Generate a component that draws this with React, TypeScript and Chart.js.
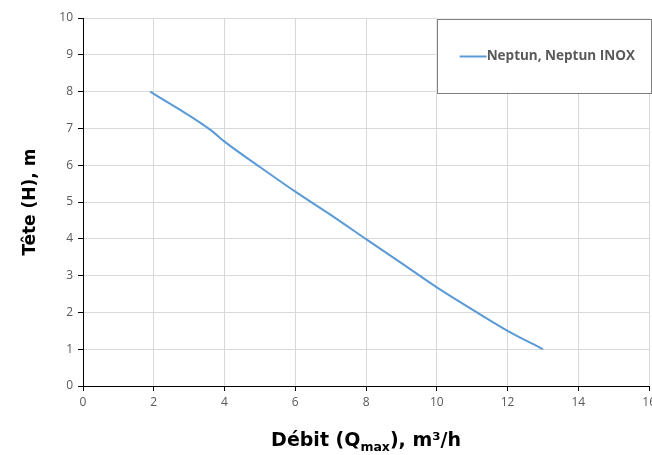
import React, { useEffect, useRef } from "react";
import { Chart, registerables } from "chart.js";

Chart.register(...registerables);

const flowValues = [1.9, 3.6, 4, 5, 6, 7, 8, 9, 10, 11.1, 12, 13];
const headValues = [8.0, 6.96, 6.64, 5.95, 5.28, 4.65, 3.99, 3.34, 2.68, 2.02, 1.5, 1.0];
const seriesLabel = "Neptun, Neptun INOX";
const yTitle = "Tête (H), m";
const xTitleParts = ["Débit (Q", "max", "), m³/h"];
const xTitleFull = xTitleParts.join("");

const CANVAS_W = 660;
const CANVAS_H = 455;
const TICK_FONT = "'Open Sans', 'DejaVu Sans', sans-serif";
const TITLE_FONT = "'DejaVu Sans', sans-serif";

const legendBoxPlugin = {
  id: "legendBox",
  afterDraw(chart: any) {
    const { ctx, chartArea } = chart;
    const right = chartArea.right + 1.5;
    const left = right - 214;
    const top = chartArea.top + 0.5;
    const h = 74;
    ctx.save();
    ctx.fillStyle = "#ffffff";
    ctx.fillRect(left, top, right - left, h);
    ctx.strokeStyle = "#7f7f7f";
    ctx.lineWidth = 1;
    ctx.strokeRect(Math.round(left) + 0.5, Math.round(top) + 0.5, right - left, h);
    const cy = top + 38;
    ctx.strokeStyle = "#5b9bd5";
    ctx.lineWidth = 2;
    ctx.beginPath();
    ctx.moveTo(left + 23, cy);
    ctx.lineTo(left + 50, cy);
    ctx.stroke();
    ctx.fillStyle = "#595959";
    ctx.font = "bold 13.5px " + TICK_FONT;
    ctx.textBaseline = "middle";
    ctx.textAlign = "left";
    ctx.fillText(chart.data.datasets[0].label, left + 50, cy);
    ctx.restore();
  },
};

const xTitlePlugin = {
  id: "xTitleSub",
  afterDraw(chart: any) {
    const { ctx, chartArea } = chart;
    const big = "bold 19px " + TITLE_FONT;
    const small = "bold 12.5px " + TITLE_FONT;
    ctx.save();
    ctx.fillStyle = "#000000";
    ctx.textBaseline = "alphabetic";
    ctx.textAlign = "left";
    ctx.font = big;
    const w1 = ctx.measureText(xTitleParts[0]).width;
    const w3 = ctx.measureText(xTitleParts[2]).width;
    ctx.font = small;
    const w2 = ctx.measureText(xTitleParts[1]).width;
    const total = w1 + w2 + w3;
    let x = (chartArea.left + chartArea.right) / 2 - total / 2;
    const base = 446;
    ctx.font = big;
    ctx.fillText(xTitleParts[0], x, base);
    x += w1;
    ctx.font = small;
    ctx.fillText(xTitleParts[1], x, base + 5);
    x += w2;
    ctx.font = big;
    ctx.fillText(xTitleParts[2], x, base);
    ctx.restore();
  },
};

export default function App() {
  const ref = useRef<HTMLCanvasElement | null>(null);

  useEffect(() => {
    document.body.style.margin = "0";
    const canvas = ref.current;
    if (!canvas) return;
    const chart = new Chart(canvas, {
      type: "line",
      data: {
        datasets: [
          {
            label: seriesLabel,
            data: flowValues.map((x, i) => ({ x, y: headValues[i] })),
            borderColor: "#5b9bd5",
            backgroundColor: "#5b9bd5",
            borderWidth: 2,
            pointRadius: 0,
            cubicInterpolationMode: "monotone",
            fill: false,
          },
        ],
      },
      options: {
        animation: false,
        responsive: false,
        devicePixelRatio: 1,
        layout: { padding: { left: 20, top: 18, right: 0, bottom: 0 } },
        plugins: {
          legend: { display: false },
          tooltip: { enabled: false },
        },
        scales: {
          x: {
            type: "linear",
            min: 0,
            max: 16,
            ticks: {
              stepSize: 2,
              color: "#595959",
              font: { family: TICK_FONT, size: 12 },
              padding: 4,
              maxRotation: 0,
            },
            grid: { color: "#d9d9d9", tickColor: "#000000", tickLength: 5 },
            border: { color: "#000000", width: 1 },
            title: {
              display: true,
              text: xTitleFull,
              color: "rgba(0,0,0,0)",
              font: { family: TITLE_FONT, size: 19, weight: "bold" },
            },
            afterFit(scale: any) {
              scale.height = 69;
            },
          },
          y: {
            type: "linear",
            min: 0,
            max: 10,
            ticks: {
              stepSize: 1,
              color: "#595959",
              font: { family: TICK_FONT, size: 12 },
              padding: 5,
            },
            grid: { color: "#d9d9d9", tickColor: "#000000", tickLength: 5 },
            border: { color: "#000000", width: 1 },
            title: {
              display: true,
              text: yTitle,
              color: "#000000",
              font: { family: TITLE_FONT, size: 17, weight: "bold" },
              padding: 0,
            },
            afterFit(scale: any) {
              scale.width = 63;
            },
          },
        },
      },
      plugins: [legendBoxPlugin, xTitlePlugin],
    } as any);
    return () => chart.destroy();
  }, []);

  return (
    <div style={{ width: 652, height: CANVAS_H, overflow: "hidden", background: "#ffffff" }}>
      <canvas ref={ref} width={CANVAS_W} height={CANVAS_H} style={{ display: "block" }} />
    </div>
  );
}
